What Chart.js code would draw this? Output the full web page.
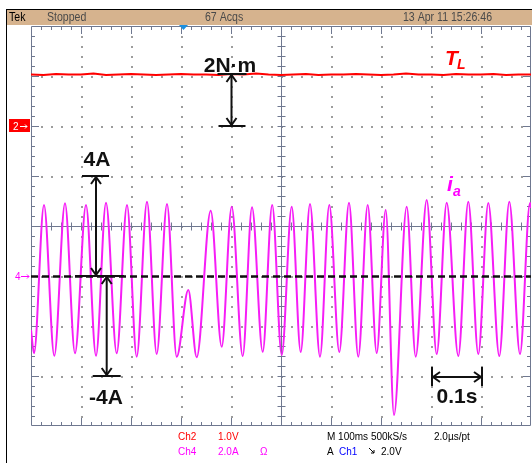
<!DOCTYPE html>
<html lang="en">
<head>
<meta charset="UTF-8">
<title>Tek capture - load torque and phase current</title>
<script src="https://cdn.jsdelivr.net/npm/chart.js"></script>
<style>
  body { margin: 0; background: #fff; }
  #wrap { position: relative; width: 532px; height: 463px; }
</style>
</head>
<body>
<div id="wrap"><canvas id="scope"></canvas></div>
<script>
// time base 100 ms/div, 10 divisions on screen
const timeRange = [0, 1000];

// Ch4: phase current i_a (A, 2.0 A/div), turning points of the trace
const iaTime = [0, 6, 26, 46.6, 68, 88, 110, 130, 150, 171.4, 192, 211.4, 232, 251.4, 272, 291.4,
  314.6, 331.4, 359.4, 381.4, 401.4, 423.4, 442, 463.4, 482.4, 501.4, 521.4, 539.4, 558, 578,
  596.6, 616.6, 636, 654.6, 673.4, 691.4, 709.4, 726, 751.4, 769.4, 791.4, 811.4, 831.4, 854.6,
  874.6, 894.6, 914.6, 936.6, 956.6, 978, 998, 1000];
const iaAmps = [-2.16, -3.09, 2.84, -3.19, 2.91, -3.09, 2.84, -3.19, 2.93, -3.09, 2.84, -3.23, 2.97, -3.12, 2.88, -3.23,
  -0.56, -3.25, 2.61, -2.83, 2.77, -3.2, 2.75, -3.03, 2.84, -3.16, 2.77, -3.04, 2.88, -3.23,
  2.84, -3.04, 2.93, -3.23, 2.84, -3.08, 2.64, -5.56, 2.77, -3.23, 3.04, -3.12, 2.93, -3.2,
  2.97, -3.12, 2.92, -3.2, 2.97, -3.12, 2.92, 2.72];

// Ch2: load torque T_L (V, 1.0 V/div), read every 25 ms
const tlTime = [0, 25, 50, 75, 100, 125, 150, 175, 200, 225, 250, 275, 300, 325, 350, 375, 400, 425, 450, 475,
  500, 525, 550, 575, 600, 625, 650, 675, 700, 725, 750, 775, 800, 825, 850, 875, 900, 925, 950, 975, 1000];
const tlVolts = [1.03, 1.02, 1.04, 1.03, 1.03, 1.05, 1.02, 1.03, 1.04, 1.03, 1.02, 1.03, 1.04, 1.03, 1.03, 1.02,
  1.04, 1.03, 1.05, 1.03, 1.02, 1.03, 1.04, 1.02, 1.03, 1.03, 1.04, 1.03, 1.02, 1.03, 1.05, 1.03, 1.03, 1.02,
  1.04, 1.03, 1.03, 1.04, 1.02, 1.03, 1.03];

// screen ranges of the two channels (8 vertical divisions)
const iaRange = [-6, 10];   // ground marker 1 div below centre
const tlRange = [-6, 2];    // ground marker 2 div above centre

const headerText = { tek: 'Tek', state: 'Stopped', acqs: '67 Acqs', stamp: '13 Apr 11 15:26:46' };

const RED = '#ff0000';
const MAG = '#ff00ff';
const GRID = '#6f7890';

function arrowHead(ctx, x, y, dir) {
  const s = 5, l = 7;
  ctx.beginPath();
  if (dir === 'up') { ctx.moveTo(x - s, y + l); ctx.lineTo(x, y); ctx.lineTo(x + s, y + l); }
  if (dir === 'down') { ctx.moveTo(x - s, y - l); ctx.lineTo(x, y); ctx.lineTo(x + s, y - l); }
  if (dir === 'left') { ctx.moveTo(x + l, y - s); ctx.lineTo(x, y); ctx.lineTo(x + l, y + s); }
  if (dir === 'right') { ctx.moveTo(x - l, y - s); ctx.lineTo(x, y); ctx.lineTo(x - l, y + s); }
  ctx.stroke();
}

// vertical double arrow with a bar at each end
function vArrow(ctx, x, y1, y2, bar1, bar2) {
  ctx.beginPath();
  ctx.moveTo(x, y1); ctx.lineTo(x, y2);
  ctx.moveTo(bar1[0], y1); ctx.lineTo(bar1[1], y1);
  ctx.moveTo(bar2[0], y2); ctx.lineTo(bar2[1], y2);
  ctx.stroke();
  arrowHead(ctx, x, y1 + 1, 'up');
  arrowHead(ctx, x, y2 - 1, 'down');
}

const scopeDecor = {
  id: 'scopeDecor',
  beforeDraw(chart) {
    const ctx = chart.ctx;
    ctx.save();
    ctx.fillStyle = '#fff';
    ctx.fillRect(0, 0, chart.width, chart.height);
    // status bar
    ctx.fillStyle = '#d6b38e';
    ctx.fillRect(7, 10, 525, 15);
    ctx.fillStyle = '#000';
    ctx.fillRect(6, 9, 526, 1);
    ctx.fillRect(6, 9, 1, chart.height - 9);
    ctx.font = '12px "Liberation Sans", Arial, sans-serif';
    ctx.textBaseline = 'alphabetic';
    const txt = (s, x, col) => {
      ctx.save(); ctx.translate(x, 21); ctx.scale(0.88, 1);
      ctx.fillStyle = col; ctx.fillText(s, 0, 0); ctx.restore();
    };
    txt(headerText.tek, 9, '#000');
    txt(headerText.state, 47, '#4a4a4a');
    txt(headerText.acqs, 205, '#4a4a4a');
    txt(headerText.stamp, 403, '#4a4a4a');

    // readouts under the graticule
    ctx.font = '10px "Liberation Sans", Arial, sans-serif';
    const r = (s, x, y, col) => { ctx.fillStyle = col; ctx.fillText(s, x, y); };
    r('Ch2', 178, 440, RED); r('1.0V', 218, 440, RED);
    r('Ch4', 178, 455, MAG); r('2.0A', 218, 455, MAG); r('Ω', 260, 455, MAG);
    r('M 100ms 500kS/s', 327, 440, '#000'); r('2.0µs/pt', 434, 440, '#000');
    r('A', 327, 455, '#000'); r('Ch1', 339, 455, '#0000ff'); r('2.0V', 381, 455, '#000');
    // falling-edge trigger glyph
    ctx.strokeStyle = '#000'; ctx.lineWidth = 1;
    ctx.beginPath(); ctx.moveTo(369, 448); ctx.lineTo(374, 453); ctx.moveTo(374, 450); ctx.lineTo(374, 453); ctx.lineTo(371, 453); ctx.stroke();
    ctx.restore();
  },
  beforeDatasetsDraw(chart) {
    const ctx = chart.ctx;
    const a = chart.chartArea;
    const dx = (a.right - a.left) / 50;   // minor division
    const dy = (a.bottom - a.top) / 40;
    ctx.save();
    // dotted division lines
    ctx.fillStyle = '#9c9c9c';
    for (let i = 1; i < 10; i++) {
      if (i === 5) continue;
      const x = Math.round(a.left + i * 5 * dx);
      for (let k = 1; k < 40; k++) ctx.fillRect(x, Math.round(a.top + k * dy), 2, 2);
    }
    for (let j = 1; j < 8; j++) {
      if (j === 4) continue;
      const y = Math.round(a.top + j * 5 * dy);
      for (let k = 1; k < 50; k++) ctx.fillRect(Math.round(a.left + k * dx), y, 2, 2);
    }
    // frame and centre axes
    ctx.strokeStyle = GRID;
    ctx.lineWidth = 1;
    const cx = Math.round((a.left + a.right) / 2) + 0.5;
    const cy = Math.round((a.top + a.bottom) / 2) + 0.5;
    ctx.beginPath();
    ctx.rect(a.left + 0.5, a.top + 0.5, a.right - a.left - 1, a.bottom - a.top - 1);
    ctx.moveTo(a.left, cy); ctx.lineTo(a.right, cy);
    ctx.moveTo(cx, a.top); ctx.lineTo(cx, a.bottom);
    for (let k = 1; k < 50; k++) {
      const x = Math.round(a.left + k * dx) + 0.5;
      const len = k % 5 === 0 ? 8 : 4;
      ctx.moveTo(x, a.top); ctx.lineTo(x, a.top + len);
      ctx.moveTo(x, a.bottom); ctx.lineTo(x, a.bottom - len);
      ctx.moveTo(x, cy - 4); ctx.lineTo(x, cy + 4);
    }
    for (let k = 1; k < 40; k++) {
      const y = Math.round(a.top + k * dy) + 0.5;
      const len = k % 5 === 0 ? 8 : 4;
      ctx.moveTo(a.left, y); ctx.lineTo(a.left + len, y);
      ctx.moveTo(a.right, y); ctx.lineTo(a.right - len, y);
      ctx.moveTo(cx - 4, y); ctx.lineTo(cx + 4, y);
    }
    ctx.stroke();
    // trigger position marker
    ctx.fillStyle = '#1a8fe0';
    ctx.beginPath(); ctx.moveTo(179, 25); ctx.lineTo(188, 25); ctx.lineTo(183.5, 30); ctx.closePath(); ctx.fill();
    ctx.restore();
  },
  afterDatasetsDraw(chart) {
    const ctx = chart.ctx;
    const a = chart.chartArea;
    const sx = chart.scales.x, si = chart.scales.yI, st = chart.scales.yT;
    ctx.save();

    // channel ground markers
    const g2 = Math.round(st.getPixelForValue(0));
    ctx.fillStyle = RED; ctx.fillRect(9, g2 - 7, 21, 13);
    ctx.fillStyle = '#fff'; ctx.font = '10px "Liberation Sans", Arial, sans-serif';
    ctx.fillText('2', 13, g2 + 4);
    ctx.strokeStyle = '#fff'; ctx.lineWidth = 1;
    ctx.beginPath(); ctx.moveTo(20, g2 + 0.5); ctx.lineTo(27, g2 + 0.5); ctx.moveTo(25, g2 - 1.5); ctx.lineTo(27, g2 + 0.5); ctx.lineTo(25, g2 + 2.5); ctx.stroke();
    const g4 = Math.round(si.getPixelForValue(0));
    ctx.fillStyle = MAG; ctx.fillText('4', 15, g4 + 4);
    ctx.strokeStyle = MAG;
    ctx.beginPath(); ctx.moveTo(21, g4 + 0.5); ctx.lineTo(29, g4 + 0.5); ctx.moveTo(27, g4 - 1.5); ctx.lineTo(29, g4 + 0.5); ctx.lineTo(27, g4 + 2.5); ctx.stroke();

    // zero-current reference
    ctx.strokeStyle = '#111'; ctx.lineWidth = 2.5;
    ctx.setLineDash([7, 4]);
    ctx.beginPath(); ctx.moveTo(a.left, g4 + 0.5); ctx.lineTo(a.right, g4 + 0.5); ctx.stroke();
    ctx.setLineDash([]);

    ctx.strokeStyle = '#111'; ctx.lineWidth = 2;
    // 2 N·m torque step
    const xT = sx.getPixelForValue(401);
    vArrow(ctx, xT, st.getPixelForValue(tlVolts[16]), st.getPixelForValue(0), [xT - 14, xT + 15], [xT - 13, xT + 14]);
    // +4 A and -4 A
    const xP = sx.getPixelForValue(130);
    vArrow(ctx, xP, si.getPixelForValue(4), si.getPixelForValue(0), [xP - 14, xP + 13], [xP - 21, xP + 28]);
    const xN = sx.getPixelForValue(151.4);
    vArrow(ctx, xN, si.getPixelForValue(0), si.getPixelForValue(-4), [xN - 14, xN + 14], [xN - 14, xN + 14]);
    // 0.1 s span
    const x1 = sx.getPixelForValue(802), x2 = sx.getPixelForValue(902);
    const yS = si.getPixelForValue(-4) + 1;
    ctx.beginPath();
    ctx.moveTo(x1, yS); ctx.lineTo(x2, yS);
    ctx.moveTo(x1, yS - 10); ctx.lineTo(x1, yS + 9);
    ctx.moveTo(x2, yS - 10); ctx.lineTo(x2, yS + 9);
    ctx.stroke();
    arrowHead(ctx, x1 + 1, yS, 'left');
    arrowHead(ctx, x2 - 1, yS, 'right');

    // annotation labels
    ctx.fillStyle = '#111';
    ctx.textAlign = 'center';
    ctx.font = 'bold 21px "Liberation Sans", Arial, sans-serif';
    ctx.fillText('2N·m', 230, 72);
    ctx.fillText('4A', 97, 166);
    ctx.fillText('-4A', 106, 404);
    ctx.fillText('0.1s', 457, 403);

    ctx.textAlign = 'left';
    ctx.fillStyle = RED;
    ctx.font = 'italic bold 21px "Liberation Sans", Arial, sans-serif';
    ctx.fillText('T', 445, 65);
    ctx.font = 'italic bold 14px "Liberation Sans", Arial, sans-serif';
    ctx.fillText('L', 457, 69);
    ctx.fillStyle = MAG;
    ctx.font = 'italic bold 21px "Liberation Sans", Arial, sans-serif';
    ctx.fillText('i', 447, 191);
    ctx.font = 'italic bold 14px "Liberation Sans", Arial, sans-serif';
    ctx.fillText('a', 453, 196);
    ctx.restore();
  }
};

new Chart(document.getElementById('scope'), {
  type: 'line',
  data: {
    datasets: [
      {
        label: 'T_L',
        data: tlTime.map((t, i) => ({ x: t, y: tlVolts[i] })),
        yAxisID: 'yT',
        borderColor: RED,
        borderWidth: 2,
        pointRadius: 0,
        tension: 0
      },
      {
        label: 'i_a',
        data: iaTime.map((t, i) => ({ x: t, y: iaAmps[i] })),
        yAxisID: 'yI',
        borderColor: '#f61ef6',
        borderWidth: 2,
        pointRadius: 0,
        cubicInterpolationMode: 'monotone'
      }
    ]
  },
  options: {
    responsive: true,
    maintainAspectRatio: false,
    animation: false,
    events: [],
    layout: { padding: { left: 31, right: 1, top: 26, bottom: 37 } },
    plugins: { legend: { display: false }, tooltip: { enabled: false } },
    scales: {
      x: { type: 'linear', display: false, min: timeRange[0], max: timeRange[1] },
      yI: { type: 'linear', display: false, min: iaRange[0], max: iaRange[1] },
      yT: { type: 'linear', display: false, min: tlRange[0], max: tlRange[1] }
    }
  },
  plugins: [scopeDecor]
});
</script>
</body>
</html>
